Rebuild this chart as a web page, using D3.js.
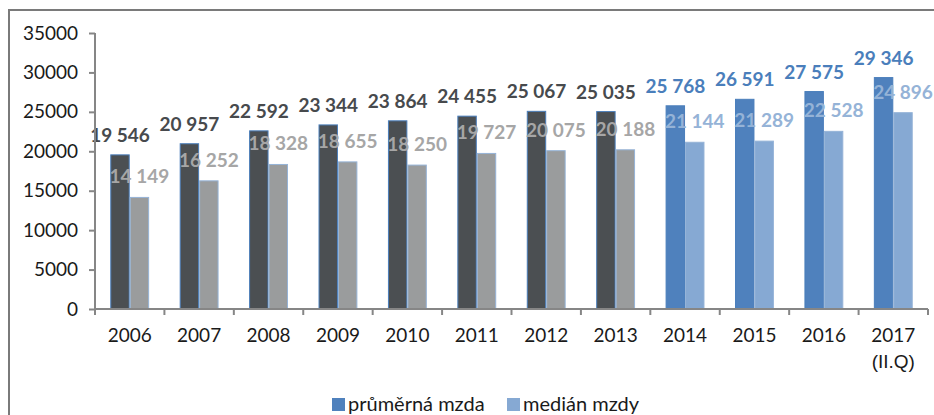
<!DOCTYPE html>
<html>
<head>
<meta charset="utf-8">
<script src="https://cdnjs.cloudflare.com/ajax/libs/d3/7.8.5/d3.min.js"></script>
<style>
  body { margin: 0; background: #fff; }
  svg { display: block; font-family: Lato, "Open Sans", sans-serif; }
</style>
</head>
<body>
<div id="vis"></div>
<script>
const frame_width = 934;
const frame_height = 415;

// data
const years = ["2006", "2007", "2008", "2009", "2010", "2011", "2012", "2013", "2014", "2015", "2016", "2017"];
const avg_wage = [19546, 20957, 22592, 23344, 23864, 24455, 25067, 25035, 25768, 26591, 27575, 29346];
const median_wage = [14149, 16252, 18328, 18655, 18250, 19727, 20075, 20188, 21144, 21289, 22528, 24896];
const y_ticks = [0, 5000, 10000, 15000, 20000, 25000, 30000, 35000];
const series_names = ["průměrná mzda", "medián mzdy"];
const blue_from = "2014";

const plot = {left: 95, right: 928, top: 33, bottom: 309};

const svg = d3.select("#vis")
  .append("svg")
    .attr("width", frame_width)
    .attr("height", frame_height);

// outer frame (only top and left visible)
svg.append("path")
  .attr("d", "M9,415 V10 H934")
  .attr("fill", "none")
  .attr("stroke", "#7a7a7a")
  .attr("stroke-width", 2);

const y_scale = d3.scaleLinear()
  .domain([0, 35000])
  .range([plot.bottom, plot.top]);

const x_scale = d3.scaleBand()
  .domain(years)
  .range([plot.left, plot.right])
  .padding(0);

const bw = x_scale.bandwidth();
const x_inner = d3.scaleBand()
  .domain([0, 1])
  .range([bw * 0.22, bw * 0.78]);

const is_blue = (yr) => +yr >= +blue_from;

const colours = {
  avg: (yr) => is_blue(yr) ? "#4f81bd" : "#4b4f52",
  avgStroke: (yr) => "#4a7ebb",
  med: (yr) => is_blue(yr) ? "#86a9d3" : "#9a9c9d",
  medStroke: (yr) => "#95b3d7",
  avgLabel: (yr) => is_blue(yr) ? "#4a7ebb" : "#474a4d",
  medLabel: (yr) => is_blue(yr) ? "#95b3d7" : "#a6a6a6"
};

const rows = years.map((yr, i) => ({year: yr, avg: avg_wage[i], med: median_wage[i]}));
const fmt = (v) => d3.format(",")(v).replace(",", " ");

// bars
const groups = svg.selectAll(".grp")
  .data(rows)
  .enter()
  .append("g")
    .attr("class", "grp")
    .attr("transform", (d) => "translate(" + x_scale(d.year) + ",0)");

groups.append("rect")
  .attr("x", x_inner(0) + 0.5)
  .attr("y", (d) => y_scale(d.avg))
  .attr("width", x_inner.bandwidth() - 1)
  .attr("height", (d) => plot.bottom - y_scale(d.avg))
  .attr("fill", (d) => colours.avg(d.year))
  .attr("stroke", (d) => colours.avgStroke(d.year))
  .attr("stroke-width", 1);

groups.append("rect")
  .attr("x", x_inner(1) + 0.5)
  .attr("y", (d) => y_scale(d.med))
  .attr("width", x_inner.bandwidth() - 1)
  .attr("height", (d) => plot.bottom - y_scale(d.med))
  .attr("fill", (d) => colours.med(d.year))
  .attr("stroke", (d) => colours.medStroke(d.year))
  .attr("stroke-width", 1);

// axes
const y_axis = svg.append("g")
  .attr("transform", "translate(" + plot.left + ",0)")
  .call(d3.axisLeft(y_scale).tickValues(y_ticks).tickSize(6).tickPadding(11).tickFormat(d3.format("d")));

const x_axis = svg.append("g")
  .attr("transform", "translate(0," + plot.bottom + ")")
  .call(d3.axisBottom(x_scale).tickSize(0).tickPadding(20));

[y_axis, x_axis].forEach((ax) => {
  ax.select(".domain").attr("stroke", "#868686").attr("stroke-width", 2);
  ax.selectAll(".tick line").attr("stroke", "#868686").attr("stroke-width", 2);
  ax.selectAll("text")
    .attr("fill", "#1a1a1a")
    .attr("font-size", "19px")
    .attr("font-family", "Lato, 'Open Sans', sans-serif");
});
x_axis.select(".domain").attr("d", "M" + plot.left + ",0H" + plot.right);
y_axis.select(".domain").attr("d", "M0," + plot.top + "V" + plot.bottom);

// category boundary ticks on x axis
svg.append("g")
  .selectAll("line")
  .data(years.concat(["end"]))
  .enter()
  .append("line")
    .attr("x1", (d) => d === "end" ? plot.right : x_scale(d))
    .attr("x2", (d) => d === "end" ? plot.right : x_scale(d))
    .attr("y1", plot.bottom)
    .attr("y2", plot.bottom + 6)
    .attr("stroke", "#868686")
    .attr("stroke-width", 2);

// second line under the last category
x_axis.selectAll(".tick")
  .filter((d) => d === "2017")
  .append("text")
    .attr("y", 46)
    .attr("dy", "0.71em")
    .attr("fill", "#1a1a1a")
    .attr("font-size", "19px")
    .attr("text-anchor", "middle")
    .text("(II.Q)");

// value labels
groups.append("text")
  .attr("x", x_inner(0) + x_inner.bandwidth() / 2)
  .attr("y", (d) => y_scale(d.avg) - 13)
  .attr("text-anchor", "middle")
  .attr("font-size", "19px")
  .attr("font-weight", "bold")
  .attr("fill", (d) => colours.avgLabel(d.year))
  .text((d) => fmt(d.avg));

groups.append("text")
  .attr("x", x_inner(1) + x_inner.bandwidth() / 2)
  .attr("y", (d) => y_scale(d.med) - 14)
  .attr("text-anchor", "middle")
  .attr("font-size", "19px")
  .attr("font-weight", "bold")
  .attr("fill", (d) => colours.medLabel(d.year))
  .text((d) => fmt(d.med));

// legend
const legend = svg.append("g").attr("transform", "translate(0,405)");
const legend_x = [332, 507];
const legend_fill = ["#4f81bd", "#86a9d3"];
series_names.forEach((name, i) => {
  legend.append("rect")
    .attr("x", legend_x[i])
    .attr("y", -7)
    .attr("width", 13)
    .attr("height", 13)
    .attr("fill", legend_fill[i]);
  legend.append("text")
    .attr("x", legend_x[i] + 16)
    .attr("y", 6)
    .attr("font-size", "20px")
    .attr("fill", "#1a1a1a")
    .text(name);
});
</script>
</body>
</html>
